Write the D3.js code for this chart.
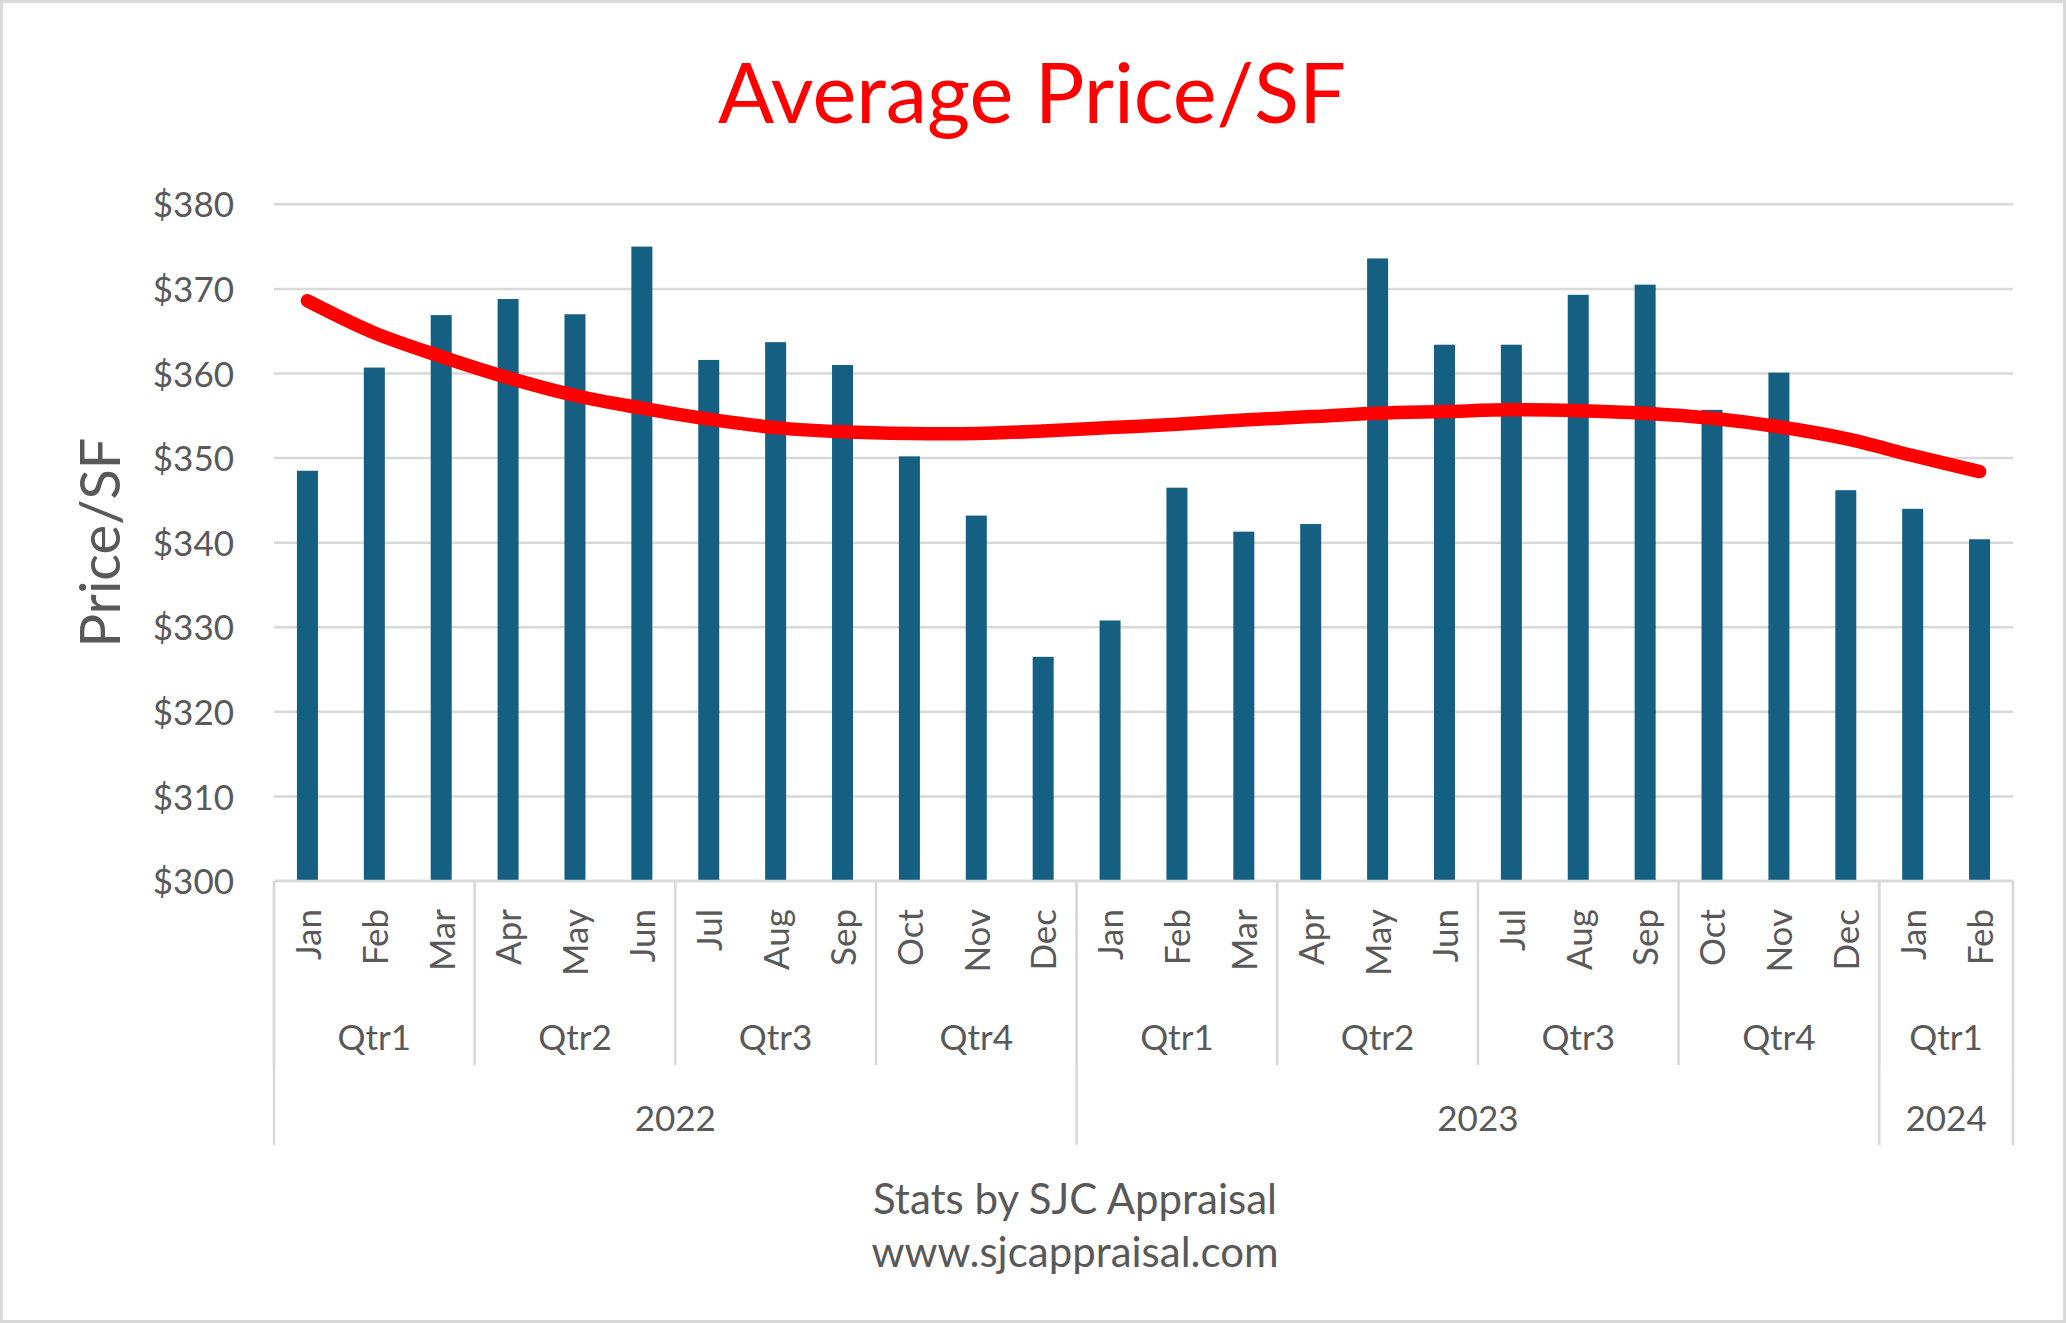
<!DOCTYPE html>
<html>
<head>
<meta charset="utf-8">
<script src="https://cdn.jsdelivr.net/npm/d3@7"></script>
<style>
  html, body { margin: 0; padding: 0; background: #ffffff; }
  svg { display: block; }
  text { font-family: Lato, "Open Sans", sans-serif; }
</style>
</head>
<body>
<script>
// ---------- data ----------
const months = ["Jan","Feb","Mar","Apr","May","Jun","Jul","Aug","Sep","Oct","Nov","Dec",
                "Jan","Feb","Mar","Apr","May","Jun","Jul","Aug","Sep","Oct","Nov","Dec",
                "Jan","Feb"];
const quarters = ["Qtr1","Qtr2","Qtr3","Qtr4","Qtr1","Qtr2","Qtr3","Qtr4","Qtr1"];
const quarterSizes = [3,3,3,3,3,3,3,3,2];
const years = ["2022","2023","2024"];
const yearSizes = [12,12,2];
const pricePerSF = [348.5, 360.7, 366.9, 368.8, 367.0, 375.0, 361.6, 363.7, 361.0, 350.2, 343.2, 326.5,
                    330.8, 346.5, 341.3, 342.2, 373.6, 363.4, 363.4, 369.3, 370.5, 355.7, 360.1, 346.2,
                    344.0, 340.4];
const trendValues = [368.6, 364.8, 362.0, 359.5, 357.4, 355.9, 354.6, 353.6, 353.1, 352.9, 352.9, 353.2,
                     353.6, 354.0, 354.5, 354.9, 355.3, 355.5, 355.7, 355.6, 355.3, 354.7, 353.7, 352.3,
                     350.3, 348.4];
const yTicks = [300, 310, 320, 330, 340, 350, 360, 370, 380];
const titleText = "Average Price/SF";
const yAxisTitle = "Price/SF";
const footerLines = ["Stats by SJC Appraisal", "www.sjcappraisal.com"];

// ---------- layout ----------
const W = 2066, H = 1323;
const plot = { left: 274, right: 2013, top: 204.3, bottom: 881 };
const gray = "#d9d9d9", textColor = "#595959";

const svg = d3.select("body").append("svg").attr("width", W).attr("height", H);

svg.append("rect").attr("x", 1.5).attr("y", 1.5).attr("width", W - 3).attr("height", H - 3)
  .attr("fill", "#fff").attr("stroke", gray).attr("stroke-width", 3);

const idx = d3.range(months.length);
const x = d3.scaleBand().domain(idx).range([plot.left, plot.right])
  .paddingInner(0.686).paddingOuter(0.343);
const step = x.step();
const cx = i => x(i) + x.bandwidth() / 2;
const y = d3.scaleLinear().domain([300, 380]).range([plot.bottom, plot.top]);

// gridlines
svg.append("g").selectAll("line").data(yTicks).join("line")
  .attr("x1", plot.left).attr("x2", plot.right)
  .attr("y1", d => y(d)).attr("y2", d => y(d))
  .attr("stroke", gray).attr("stroke-width", 2.5);

// y axis labels
const yAxis = d3.axisLeft(y).tickValues(yTicks).tickSize(0).tickPadding(0)
  .tickFormat(d => "$" + d);
const gy = svg.append("g").attr("transform", `translate(${234},0)`).call(yAxis);
gy.select(".domain").remove();
gy.selectAll("text").attr("font-family", "Lato").attr("font-size", 35)
  .attr("fill", textColor).attr("dy", "0.36em");

// bars
svg.append("g").selectAll("rect").data(pricePerSF).join("rect")
  .attr("x", (d, i) => x(i)).attr("width", x.bandwidth())
  .attr("y", d => y(d)).attr("height", d => y(300) - y(d))
  .attr("fill", "#156082");

// trendline
const line = d3.line().x((d, i) => cx(i)).y(d => y(d)).curve(d3.curveCatmullRom.alpha(0.5));
svg.append("path").datum(trendValues).attr("d", line)
  .attr("fill", "none").attr("stroke", "#ff0000").attr("stroke-width", 13.5)
  .attr("stroke-linecap", "round").attr("stroke-linejoin", "round");

// category axis
const cat = svg.append("g");
const rowMonthTop = plot.bottom, rowQtrBottom = 1065, rowYearBottom = 1145;
cat.append("line").attr("x1", plot.left).attr("x2", plot.right)
  .attr("y1", plot.bottom).attr("y2", plot.bottom).attr("stroke", gray).attr("stroke-width", 2.5);

let qStarts = [0];
quarterSizes.forEach((s, i) => qStarts.push(qStarts[i] + s));
let yStarts = [0];
yearSizes.forEach((s, i) => yStarts.push(yStarts[i] + s));
const edgeX = k => plot.left + k * step;

cat.selectAll("line.q").data(qStarts).join("line").attr("class", "q")
  .attr("x1", k => edgeX(k)).attr("x2", k => edgeX(k))
  .attr("y1", rowMonthTop).attr("y2", rowQtrBottom)
  .attr("stroke", gray).attr("stroke-width", 2.5);
cat.selectAll("line.yr").data(yStarts).join("line").attr("class", "yr")
  .attr("x1", k => edgeX(k)).attr("x2", k => edgeX(k))
  .attr("y1", rowMonthTop).attr("y2", rowYearBottom)
  .attr("stroke", gray).attr("stroke-width", 2.5);

// month labels
cat.selectAll("text.m").data(months).join("text").attr("class", "m")
  .attr("transform", (d, i) => `translate(${cx(i)},909) rotate(-90)`)
  .attr("text-anchor", "end").attr("dy", "0.38em")
  .attr("font-size", 35).attr("fill", textColor).text(d => d);

// quarter labels
cat.selectAll("text.qt").data(quarters).join("text").attr("class", "qt")
  .attr("x", (d, i) => edgeX(qStarts[i] + quarterSizes[i] / 2))
  .attr("y", 1050).attr("text-anchor", "middle")
  .attr("font-size", 35).attr("fill", textColor).text(d => d);

// year labels
cat.selectAll("text.yt").data(years).join("text").attr("class", "yt")
  .attr("x", (d, i) => edgeX(yStarts[i] + yearSizes[i] / 2))
  .attr("y", 1130.5).attr("text-anchor", "middle")
  .attr("font-size", 35).attr("fill", textColor).text(d => d);

// title
svg.append("text").attr("x", 1032).attr("y", 122.7).attr("text-anchor", "middle")
  .attr("font-size", 83).attr("fill", "#ff0000").text(titleText);

// y-axis title
svg.append("text").attr("transform", "translate(120,542.5) rotate(-90)")
  .attr("text-anchor", "middle").attr("font-size", 56).attr("fill", textColor).text(yAxisTitle);

// footer
svg.append("g").selectAll("text").data(footerLines).join("text")
  .attr("x", 1075).attr("y", (d, i) => [1214, 1266.5][i]).attr("text-anchor", "middle")
  .attr("font-size", 42).attr("fill", textColor).text(d => d);
</script>
</body>
</html>
